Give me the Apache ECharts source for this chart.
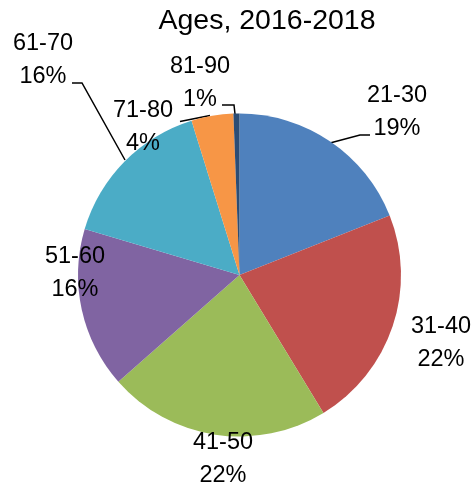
<!DOCTYPE html>
<html>
<head>
<meta charset="utf-8">
<script src="https://cdn.jsdelivr.net/npm/echarts@6/dist/echarts.min.js"></script>
<style>
  html, body { margin: 0; padding: 0; background: #fff; }
  #chart { width: 474px; height: 487px; }
</style>
</head>
<body>
<div id="chart"></div>
<script>
// Data
const categories = ['21-30', '31-40', '41-50', '51-60', '61-70', '71-80', '81-90'];
const shares = [19.0, 22.3, 22.2, 16.1, 15.6, 4.2, 0.6];
const titleText = 'Ages, 2016-2018';

const colors = ['#4F81BD', '#C0504D', '#9BBB59', '#8064A2', '#4BACC6', '#F79646', '#2C4D75'];

// Label placement (layout only)
const labelPos = [
  [397, 112], [441, 343], [223, 459], [75, 273], [43, 60], [143, 127], [200, 83]
];
const leaderLines = {
  0: [[330, 143], [360, 135], [370, 135]],
  4: [[125, 160], [82, 83], [72, 83]],
  5: [[210, 115.5], [195, 118.5], [180, 121.5]],
  6: [[235, 114], [234, 105], [222, 105]]
};

const chart = echarts.init(document.getElementById('chart'), null, { renderer: 'canvas' });

const data = categories.map((c, i) => ({
  name: c,
  value: shares[i],
  itemStyle: { color: colors[i] },
  labelLine: { show: leaderLines[i] !== undefined }
}));

chart.setOption({
  animation: false,
  title: {
    text: titleText,
    left: 262,
    top: 2,
    textAlign: 'center',
    textStyle: {
      fontFamily: 'Liberation Sans',
      fontSize: 28.5,
      fontWeight: 'normal',
      color: '#000'
    }
  },
  series: [{
    type: 'pie',
    center: [239.5, 275],
    radius: [0, 161.5],
    startAngle: 90,
    clockwise: true,
    avoidLabelOverlap: false,
    itemStyle: { borderWidth: 0 },
    label: {
      show: true,
      position: 'outside',
      formatter: p => p.name + '\n' + Math.round(p.percent) + '%',
      fontFamily: 'Liberation Sans',
      fontSize: 23.5,
      lineHeight: 33,
      color: '#000',
      align: 'center'
    },
    labelLine: {
      show: true,
      lineStyle: { color: '#000', width: 1.5 }
    },
    labelLayout: function (params) {
      const i = params.dataIndex;
      const out = {
        x: labelPos[i][0],
        y: labelPos[i][1],
        align: 'center',
        verticalAlign: 'middle'
      };
      if (leaderLines[i]) out.labelLinePoints = leaderLines[i];
      return out;
    },
    data: data
  }]
});
</script>
</body>
</html>
